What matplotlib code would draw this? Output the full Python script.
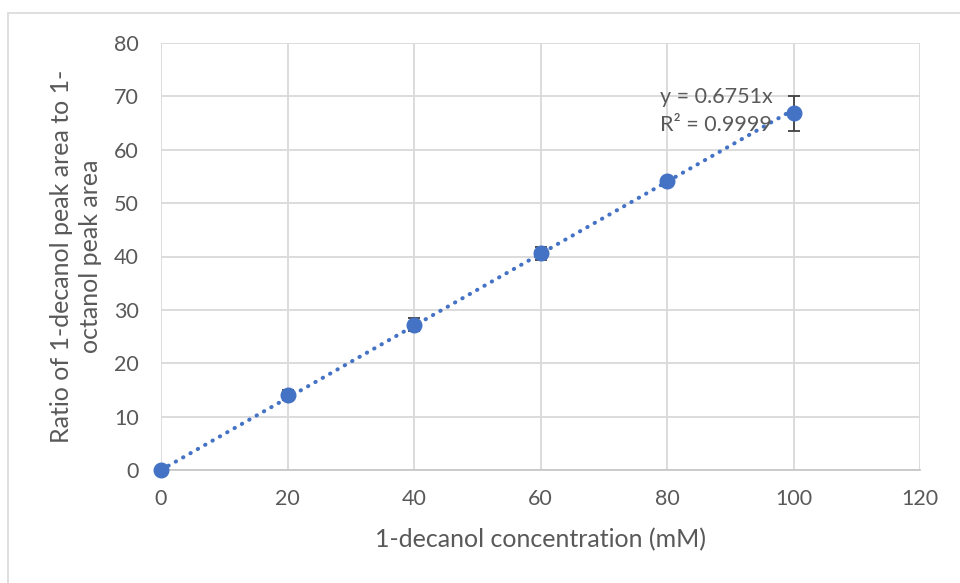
import numpy as np
import matplotlib
matplotlib.use("Agg")
import matplotlib.pyplot as plt
from matplotlib.patches import Rectangle

# Calibration data: 1-decanol concentration vs. peak-area ratio
conc_mM = [0, 20, 40, 60, 80, 100]
area_ratio = [0.0, 14.1, 27.2, 40.6, 54.1, 66.8]
ratio_err = [0.0, 0.9, 1.2, 1.2, 0.5, 3.3]
slope = 0.6751
r_squared = 0.9999

x_ticks = [0, 20, 40, 60, 80, 100, 120]
y_ticks = [0, 10, 20, 30, 40, 50, 60, 70, 80]

text_color = "#595959"
grid_color = "#d9d9d9"
marker_color = "#4472c4"

plt.rcParams["font.family"] = ["Lato", "DejaVu Sans"]

fig = plt.figure(figsize=(9.6, 5.83), dpi=100)
ax = fig.add_axes([161 / 960, 1 - 470 / 583, (920 - 161) / 960, (470 - 43) / 583])

# outer chart border
fig.patches.append(Rectangle((8 / 960, -0.05), 1.0, 1 - 13 / 583 + 0.05,
                             transform=fig.transFigure, fill=False,
                             edgecolor="#d9d9d9", linewidth=1.2, zorder=0))

ax.set_xlim(0, 120)
ax.set_ylim(0, 80)
ax.set_xticks(x_ticks)
ax.set_yticks(y_ticks)
ax.grid(True, color=grid_color, linewidth=1.3)
ax.set_axisbelow(True)
for side in ["top", "right", "left"]:
    ax.spines[side].set_visible(False)
ax.spines["bottom"].set_color("#c8c8c8")
ax.spines["bottom"].set_linewidth(1.3)
ax.tick_params(axis="both", length=0, colors=text_color, labelsize=15.5)
ax.tick_params(axis="x", pad=14)
ax.tick_params(axis="y", pad=16)

# linear trendline through origin (round dotted)
fit_x = np.array([conc_mM[0], conc_mM[-1]])
ax.plot(fit_x, slope * fit_x, linestyle=(0, (0.1, 2.0)), color=marker_color,
        linewidth=2.9, zorder=2, dash_capstyle="round")

ax.errorbar(conc_mM, area_ratio, yerr=ratio_err, fmt="o", color=marker_color,
            markersize=10.5, ecolor="#404040", elinewidth=1.3, capsize=4.3,
            capthick=1.3, zorder=3, clip_on=False)

ax.text(78.9, 69.9, "y = 0.6751x", color=text_color, fontsize=15.5,
        ha="left", va="center", zorder=4)
ax.text(78.9, 64.6, f"R² = {r_squared:.4f}", color=text_color, fontsize=15.5,
        ha="left", va="center", zorder=4)

ax.set_xlabel("1-decanol concentration (mM)", color=text_color, fontsize=18)
ax.xaxis.set_label_coords(0.5, -(528 - 470) / (470 - 43))
fig.text(76 / 960, 1 - 256 / 583,
         "Ratio of 1-decanol peak area to 1-\noctanol peak area",
         color=text_color, fontsize=18, rotation=90, ha="center", va="center",
         multialignment="center", linespacing=1.35)

fig.savefig("out.png", dpi=100)
